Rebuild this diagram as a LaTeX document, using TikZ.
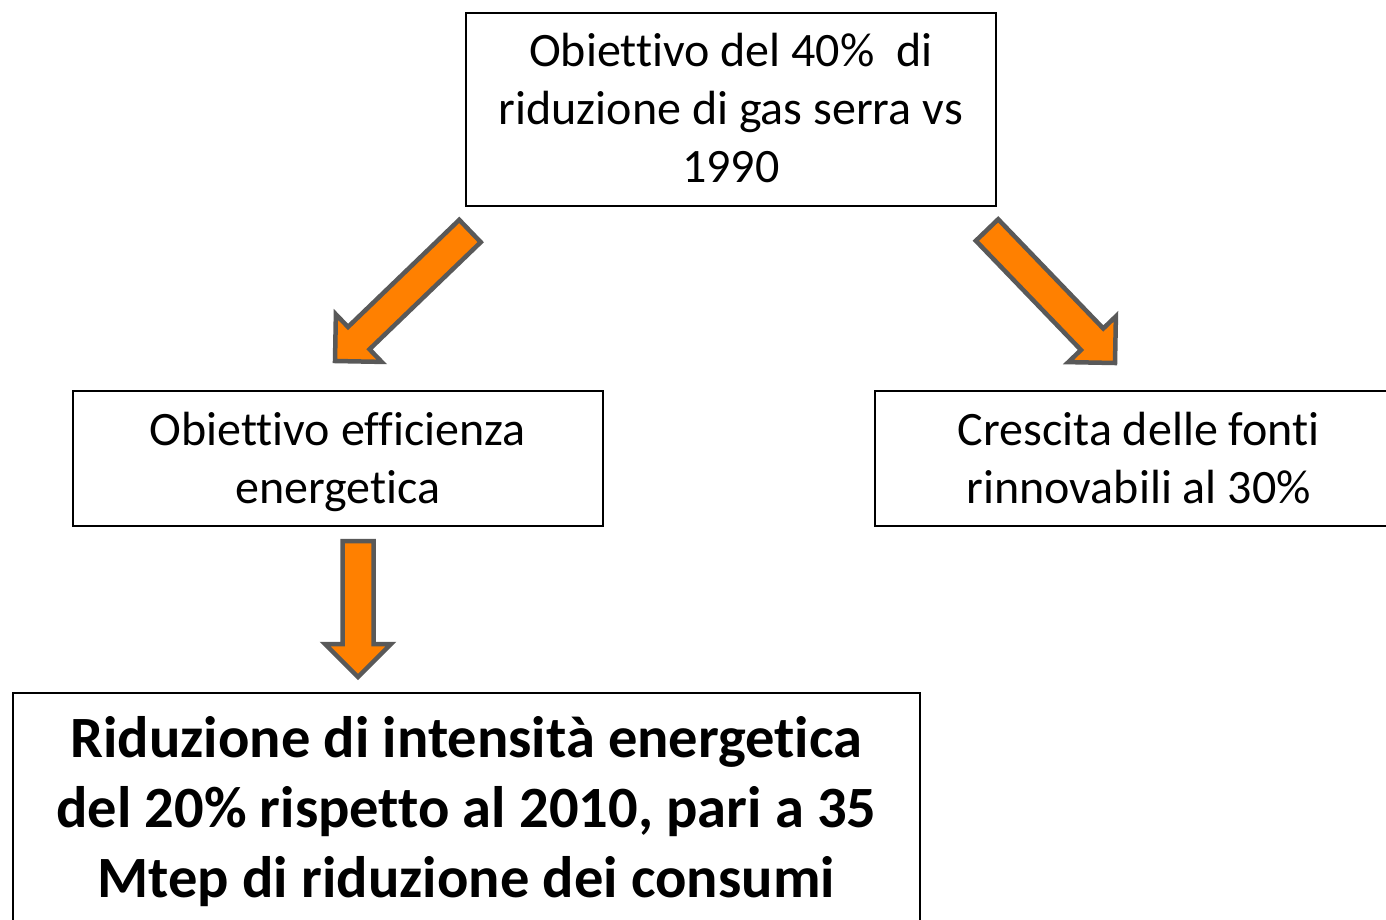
\documentclass[tikz,border=0pt]{standalone}
\usepackage{fontspec}
\setmainfont{Carlito}[Ligatures={NoCommon}]
\usetikzlibrary{calc}
\definecolor{arrfill}{HTML}{FF8000}
\definecolor{arrline}{HTML}{595959}
\tikzset{
  box/.style={draw=black, line width=1.6pt, fill=white, align=center, inner sep=0pt, anchor=north west},
  normtxt/.style={font=\fontsize{48}{58}\selectfont},
  boldtxt/.style={font=\fontsize{58.5}{70}\selectfont\bfseries},
  blockarrow/.style={draw=arrline, fill=arrfill, line width=4.5pt, line join=miter},
}
\newcommand\blockarr[2]{%
  \coordinate (bH) at ($(#2)!33pt!(#1)$);
  \draw[blockarrow] ($(#1)!15.5pt!90:(#2)$) -- ($(bH)!15.5pt!90:(#2)$) -- ($(bH)!33pt!90:(#2)$) -- (#2)
    -- ($(bH)!33pt!-90:(#2)$) -- ($(bH)!15.5pt!-90:(#2)$) -- ($(#1)!15.5pt!-90:(#2)$) -- cycle;
}
\begin{document}
\begin{tikzpicture}[x=1pt,y=-1pt]
\useasboundingbox (0,0) rectangle (1386,919);
\node[box, minimum width=530pt, minimum height=193pt] (top) at (465,12) {};
\node[normtxt, align=center, inner sep=0pt] (toptxt) at ($(top.center)+(0,-1)$)
  {Obiettivo del 40\%\ \ di\\riduzione di gas serra vs\\1990};
\node[box, minimum width=530pt, minimum height=135pt] (eff) at (72,390) {};
\node[normtxt, align=center, inner sep=0pt] (efftxt) at ($(eff.center)+(0,4)$)
  {Obiettivo efficienza\\energetica};
\node[box, minimum width=528pt, minimum height=135pt] (ren) at (874,390) {};
\node[normtxt, align=center, inner sep=0pt] (rentxt) at ($(ren.center)+(0,0)$)
  {Crescita delle fonti\\rinnovabili al 30\%};
\node[box, minimum width=907pt, minimum height=236pt] (red) at (12,692) {};
\node[boldtxt, align=center, inner sep=0pt] (redtxt) at ($(red.center)+(0,1)$)
  {Riduzione di intensità energetica\\del 20\% rispetto al 2010, pari a 35\\Mtep di riduzione dei consumi};
% block arrows
\coordinate (a1s) at (470,231);
\coordinate (a1t) at (335,361);
\coordinate (a2s) at (987,230);
\coordinate (a2t) at (1115,363);
\coordinate (a3s) at (358,541);
\coordinate (a3t) at (358,677);
\blockarr{a1s}{a1t}
\blockarr{a2s}{a2t}
\blockarr{a3s}{a3t}
\end{tikzpicture}
\end{document}
